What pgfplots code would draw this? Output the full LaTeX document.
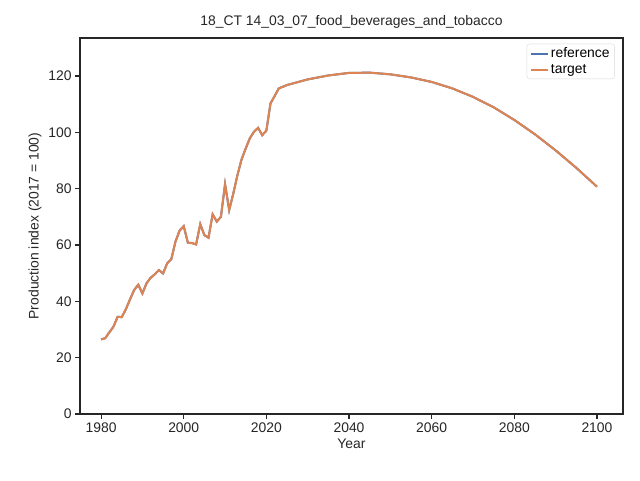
\documentclass[border=0pt]{standalone}
\usepackage{fontspec}
\setmainfont{Liberation Sans}
\usepackage{pgfplots}
\pgfplotsset{compat=1.18}
\definecolor{sbblue}{HTML}{4C72B0}
\definecolor{sborange}{HTML}{DD8452}
\begin{document}
\begin{tikzpicture}
\pgfplotstableread{
x y
1980 26.5
1981 26.9
1982 29.0
1983 31.0
1984 34.5
1985 34.4
1986 37.2
1987 40.7
1988 44.0
1989 45.9
1990 42.8
1991 46.4
1992 48.4
1993 49.6
1994 51.1
1995 49.9
1996 53.5
1997 55.0
1998 61.2
1999 65.1
2000 66.7
2001 60.8
2002 60.7
2003 60.2
2004 67.4
2005 63.5
2006 62.6
2007 70.9
2008 68.3
2009 70.0
2010 81.6
2011 72.4
2012 78.3
2013 84.8
2014 90.4
2015 94.3
2016 97.9
2017 100.2
2018 101.6
2019 99.0
2020 100.6
2021 110.3
2022 112.9
2023 115.6
2025 116.8
2030 118.8
2035 120.2
2040 121.1
2045 121.2
2050 120.6
2055 119.5
2060 117.9
2065 115.6
2070 112.6
2075 108.9
2080 104.4
2085 99.3
2090 93.6
2095 87.4
2100 80.7
}\data
\begin{axis}[name=ax,
  scale only axis, width=543pt, height=376pt,
  at={(0,0)}, anchor=south west,
  xmin=1974.9, xmax=2106.3, ymin=0, ymax=133.5,
  xtick={1980,2000,2020,2040,2060,2080,2100},
  ytick={0,20,40,60,80,100,120},
  tick align=outside, tick pos=lower,
  major tick length=4.8pt,
  axis line style={black!85, line width=1.1pt},
  tick style={black!85, line width=1.1pt},
  ticklabel style={font=\fontsize{13.9}{16}\selectfont, text=black!85},
  /pgf/number format/assume math mode=true,
  /pgf/number format/1000 sep={},
  xlabel={Year}, ylabel={Production index (2017 = 100)},
  label style={font=\fontsize{13.9}{16}\selectfont, text=black!85},
  title={18\_CT 14\_03\_07\_food\_beverages\_and\_tobacco},
  title style={font=\fontsize{13.9}{16}\selectfont, text=black!85},
  legend style={at={(0.985,0.985)}, anchor=north east, font=\fontsize{13.9}{16}\selectfont, draw=black!15, rounded corners=3pt, row sep=1pt},
  legend cell align=left,
  legend image post style={line width=2pt},
]
\addplot[sbblue, line width=2pt] table[x=x,y=y] {\data};
\addlegendentry{reference}
\addplot[sborange, line width=2pt] table[x=x,y=y] {\data};
\addlegendentry{target}
\end{axis}
\pgfresetboundingbox
\path[use as bounding box] (-80pt,-66pt) rectangle (560pt,414pt);
\end{tikzpicture}
\end{document}
